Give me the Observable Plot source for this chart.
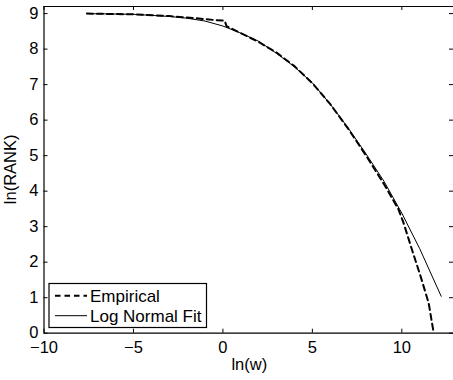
<!DOCTYPE html>
<html>
<head>
<meta charset="utf-8">
<script src="https://cdn.jsdelivr.net/npm/d3@7"></script>
<script src="https://cdn.jsdelivr.net/npm/@observablehq/plot@0.6"></script>
<style>
  html, body { margin: 0; padding: 0; background: #fff; }
  #chart { width: 453px; height: 380px; overflow: hidden; }
  svg { font-family: "Liberation Sans", Arial, sans-serif; }
</style>
</head>
<body>
<div id="chart"></div>
<script>
// Empirical rank-size data (ln(w), ln(RANK))
const empX = [-7.6, -5, -3, -1.5, -0.5, 0.1, 0.2, 1, 2, 3, 4, 5, 6, 7, 8, 9, 9.8, 10.1, 10.6, 11.05, 11.5, 11.75];
const empY = [9.0, 8.98, 8.93, 8.87, 8.82, 8.8, 8.65, 8.45, 8.2, 7.9, 7.52, 7.04, 6.45, 5.76, 5.0, 4.2, 3.5, 3.1, 2.3, 1.6, 0.85, 0.1];
// Log normal fit
const fitX = [-7.6, -5, -3, -2, -1, 0, 1, 2, 3, 4, 5, 6, 7, 8, 9, 10, 11, 12.2];
const fitY = [9.0, 8.98, 8.92, 8.87, 8.79, 8.65, 8.45, 8.22, 7.88, 7.5, 7.05, 6.45, 5.78, 5.05, 4.28, 3.38, 2.38, 1.04];

const xTicks = [-10, -5, 0, 5, 10];
const xTickLabels = ["\u221210", "\u22125", "0", "5", "10"];
const yTicks = [0, 1, 2, 3, 4, 5, 6, 7, 8, 9];
const xDomain = [-10, 13];
const yDomain = [0, 9.2];
const xLabel = "ln(w)";
const yLabel = "ln(RANK)";
const seriesNames = ["Empirical", "Log Normal Fit"];

const W = 453, H = 380;
const mL = 43.5, mR = -2, mT = 6, mB = 47.3;
const plotW = W - mL - mR, plotH = H - mT - mB;
const fs = 16.5;

const emp = empX.map((x, i) => ({x, y: empY[i]}));
const fit = fitX.map((x, i) => ({x, y: fitY[i]}));

const plot = Plot.plot({
  width: W, height: H,
  marginLeft: mL, marginRight: mR, marginTop: mT, marginBottom: mB,
  style: {fontFamily: "'Liberation Sans', Arial, sans-serif", fontSize: fs + "px", color: "#000", background: "#fff", overflow: "hidden"},
  x: {domain: xDomain},
  y: {domain: yDomain},
  marks: [
    Plot.axisX(xTicks, {tickSize: 0, tickPadding: 8, fontSize: fs, tickFormat: (d) => xTickLabels[xTicks.indexOf(d)], label: null}),
    Plot.axisY(yTicks, {tickSize: 0, tickPadding: 5.5, fontSize: fs, label: null}),
    // box lines
    Plot.ruleY([yDomain[0]], {stroke: "#000", strokeWidth: 1.2}),
    Plot.ruleY([yDomain[1]], {stroke: "#000", strokeWidth: 1.2}),
    Plot.ruleX([xDomain[0]], {stroke: "#000", strokeWidth: 1.2}),
    // inward ticks
    Plot.ruleX(xTicks, {x: d => d, insetTop: plotH - 4, stroke: "#000"}),
    Plot.ruleX(xTicks, {x: d => d, insetBottom: plotH - 4, stroke: "#000"}),
    Plot.ruleY(yTicks, {y: d => d, insetRight: plotW - 4, stroke: "#000"}),
    Plot.ruleY(yTicks, {y: d => d, insetLeft: plotW - 6, stroke: "#000"}),
    // series
    Plot.line(fit, {x: "x", y: "y", stroke: "#000", strokeWidth: 1}),
    Plot.line(emp, {x: "x", y: "y", stroke: "#000", strokeWidth: 2, strokeDasharray: "6,4"})
  ]
});
document.getElementById("chart").appendChild(plot);

const svg = d3.select(plot);
const cx = mL + plotW / 2, cy = mT + plotH / 2;
// Axis labels
svg.append("text").attr("x", cx).attr("y", H - mB + 31.5).attr("dy", "0.35em")
  .attr("text-anchor", "middle").attr("font-size", fs).attr("fill", "#000").text(xLabel);
svg.append("text").attr("transform", `translate(10.5,${cy}) rotate(-90)`).attr("dy", "0.35em")
  .attr("text-anchor", "middle").attr("font-size", fs).attr("fill", "#000").text(yLabel);

// Legend inside the plot (lower left)
const lg = svg.append("g").attr("text-anchor", "start");
lg.append("rect").attr("x", 49).attr("y", 283.5).attr("width", 157.5).attr("height", 44)
  .attr("fill", "#fff").attr("stroke", "#000").attr("stroke-width", 1.2);
lg.append("line").attr("x1", 55).attr("x2", 87).attr("y1", 295.7).attr("y2", 295.7)
  .attr("stroke", "#000").attr("stroke-width", 2).attr("stroke-dasharray", "5.5,4");
lg.append("line").attr("x1", 55).attr("x2", 87).attr("y1", 315.7).attr("y2", 315.7)
  .attr("stroke", "#000").attr("stroke-width", 1);
lg.append("text").attr("x", 90).attr("y", 302).attr("font-size", 17).attr("fill", "#000").text(seriesNames[0]);
lg.append("text").attr("x", 90).attr("y", 322).attr("font-size", 17).attr("fill", "#000").text(seriesNames[1]);
</script>
</body>
</html>
